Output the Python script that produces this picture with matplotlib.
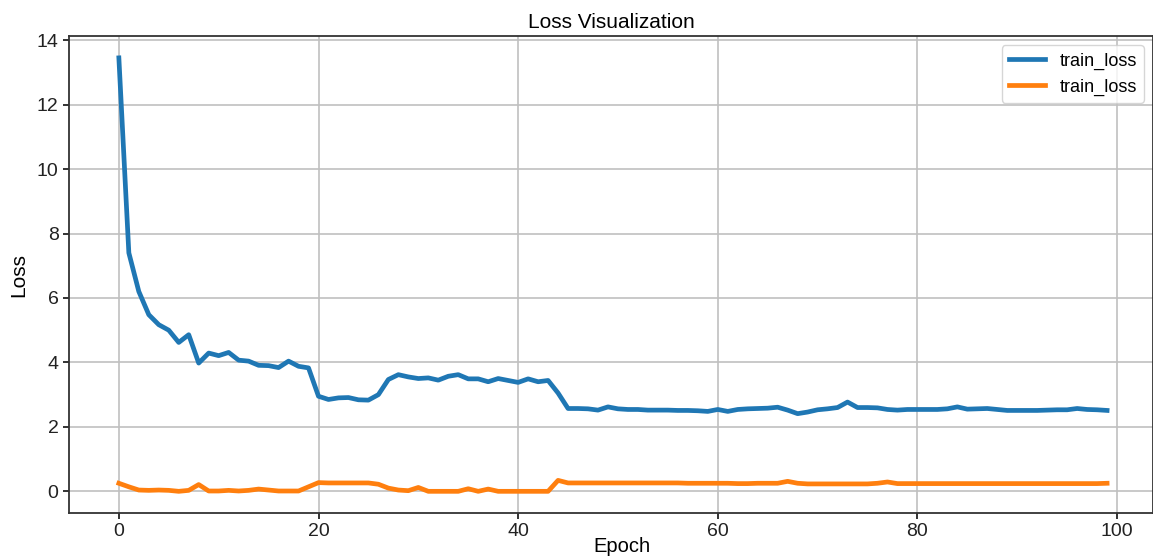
import matplotlib.pyplot as plt
import numpy as np

plt.rcParams['font.family'] = ['Liberation Sans', 'DejaVu Sans']

epochs = list(range(100))

blue_loss = [
    13.45, 7.40, 6.20, 5.48, 5.17, 5.00, 4.62, 4.86, 3.98, 4.29,
    4.21, 4.31, 4.07, 4.04, 3.91, 3.90, 3.84, 4.04, 3.88, 3.83,
    2.95, 2.85, 2.90, 2.91, 2.84, 2.83, 3.00, 3.47, 3.62, 3.55,
    3.50, 3.52, 3.45, 3.57, 3.62, 3.49, 3.49, 3.40, 3.50, 3.44,
    3.38, 3.49, 3.40, 3.44, 3.05, 2.57, 2.57, 2.56, 2.52, 2.62,
    2.56, 2.54, 2.54, 2.52, 2.52, 2.52, 2.51, 2.51, 2.50, 2.48,
    2.54, 2.48, 2.54, 2.56, 2.57, 2.58, 2.61, 2.52, 2.41, 2.46,
    2.53, 2.56, 2.60, 2.77, 2.60, 2.60, 2.59, 2.54, 2.52, 2.54,
    2.54, 2.54, 2.54, 2.56, 2.62, 2.55, 2.56, 2.57, 2.54, 2.51,
    2.51, 2.51, 2.51, 2.52, 2.53, 2.53, 2.57, 2.54, 2.53, 2.51,
]

orange_loss = [
    0.25, 0.14, 0.04, 0.03, 0.04, 0.03, 0.00, 0.03, 0.21, 0.01,
    0.01, 0.03, 0.01, 0.03, 0.07, 0.04, 0.01, 0.01, 0.01, 0.14,
    0.27, 0.26, 0.26, 0.26, 0.26, 0.26, 0.22, 0.10, 0.04, 0.02,
    0.12, 0.00, 0.00, 0.00, 0.00, 0.08, 0.00, 0.07, 0.00, 0.00,
    0.00, 0.00, 0.00, 0.00, 0.34, 0.26, 0.26, 0.26, 0.26, 0.26,
    0.26, 0.26, 0.26, 0.26, 0.26, 0.26, 0.26, 0.25, 0.25, 0.25,
    0.25, 0.25, 0.24, 0.24, 0.25, 0.25, 0.25, 0.31, 0.25, 0.23,
    0.23, 0.23, 0.23, 0.23, 0.23, 0.23, 0.25, 0.29, 0.24, 0.24,
    0.24, 0.24, 0.24, 0.24, 0.24, 0.24, 0.24, 0.24, 0.24, 0.24,
    0.24, 0.24, 0.24, 0.24, 0.24, 0.24, 0.24, 0.24, 0.24, 0.25,
]

fig = plt.figure(figsize=(11.53, 5.57), dpi=100)
ax = fig.add_axes([0.0598, 0.079, 0.9402, 0.856])

ax.plot(epochs, blue_loss, c="#1f77b4", lw=3.4, label="train_loss")
ax.plot(epochs, orange_loss, c="#ff7f0e", lw=3.4, label="train_loss")

ax.set_xlim(-5.0, 103.6)
ax.grid(True, color="#c0c0c0", lw=1.2)
ax.set_axisbelow(True)
ax.set_xticks([0, 20, 40, 60, 80, 100])
ax.set_yticks([0, 2, 4, 6, 8, 10, 12, 14])
ax.tick_params(labelsize=14, colors="#222222", length=4, width=1.3)
for s in ax.spines.values():
    s.set_color("#333333")
    s.set_linewidth(1.3)

ax.set_xlabel("Epoch", fontsize=14.5)
ax.xaxis.set_label_coords(0.51, -0.05)
ax.set_ylabel("Loss", fontsize=15, labelpad=6)
ax.set_title("Loss Visualization", fontsize=15, pad=6)
ax.legend(loc="upper right", fontsize=13)

fig.savefig("out.png", dpi=100)
